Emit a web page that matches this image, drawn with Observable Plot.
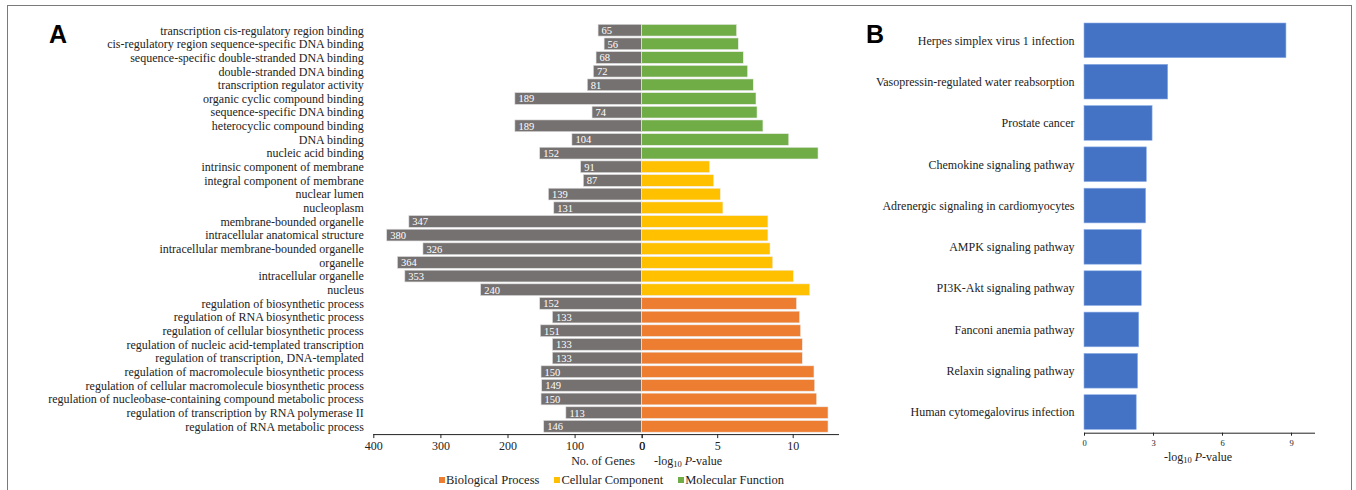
<!DOCTYPE html>
<html>
<head>
<meta charset="utf-8">
<script src="https://cdn.jsdelivr.net/npm/d3@7"></script>
<script src="https://cdn.jsdelivr.net/npm/@observablehq/plot@0.6"></script>
<style>
  html, body { margin: 0; padding: 0; background: #fff; }
  #root { position: relative; width: 1356px; height: 490px; overflow: hidden; font-family: "Liberation Serif", "Times New Roman", serif; color: #222; }
  .frame { position: absolute; left: 7px; top: 5px; width: 1345px; height: 520px; border: 1.5px solid #7a7a7a; border-bottom: none; box-sizing: border-box; }
  .panel { position: absolute; font-family: "Liberation Sans", Arial, sans-serif; font-weight: bold; font-size: 25px; color: #000; }
  .atitle { position: absolute; font-size: 12px; white-space: nowrap; transform: translateX(-50%); }
  .atitle sub { font-size: 8.5px; vertical-align: -2px; }
  .legend { position: absolute; top: 473px; left: 439px; font-size: 12.5px; white-space: nowrap; }
  .legend span.sw { display: inline-block; width: 6px; height: 6px; margin-right: 1px; vertical-align: 1px; }
  .legend span.item { margin-right: 15px; }
</style>
</head>
<body>
<div id="root">
  <div class="frame"></div>
</div>
<script>
// ---- Data ----
const goTerms = [
  "transcription cis-regulatory region binding",
  "cis-regulatory region sequence-specific DNA binding",
  "sequence-specific double-stranded DNA binding",
  "double-stranded DNA binding",
  "transcription regulator activity",
  "organic cyclic compound binding",
  "sequence-specific DNA binding",
  "heterocyclic compound binding",
  "DNA binding",
  "nucleic acid binding",
  "intrinsic component of membrane",
  "integral component of membrane",
  "nuclear lumen",
  "nucleoplasm",
  "membrane-bounded organelle",
  "intracellular anatomical structure",
  "intracellular membrane-bounded organelle",
  "organelle",
  "intracellular organelle",
  "nucleus",
  "regulation of biosynthetic process",
  "regulation of RNA biosynthetic process",
  "regulation of cellular biosynthetic process",
  "regulation of nucleic acid-templated transcription",
  "regulation of transcription, DNA-templated",
  "regulation of macromolecule biosynthetic process",
  "regulation of cellular macromolecule biosynthetic process",
  "regulation of nucleobase-containing compound metabolic process",
  "regulation of transcription by RNA polymerase II",
  "regulation of RNA metabolic process"
];
const geneCounts = [65, 56, 68, 72, 81, 189, 74, 189, 104, 152,
                    91, 87, 139, 131, 347, 380, 326, 364, 353, 240,
                    152, 133, 151, 133, 133, 150, 149, 150, 113, 146];
const goLogP = [6.29, 6.40, 6.73, 7.02, 7.39, 7.57, 7.64, 8.03, 9.74, 11.68,
                4.50, 4.77, 5.21, 5.38, 8.36, 8.36, 8.50, 8.68, 10.04, 11.13,
                10.26, 10.46, 10.53, 10.64, 10.64, 11.41, 11.46, 11.59, 12.34, 12.34];
const goOntology = [
  "Molecular Function","Molecular Function","Molecular Function","Molecular Function","Molecular Function",
  "Molecular Function","Molecular Function","Molecular Function","Molecular Function","Molecular Function",
  "Cellular Component","Cellular Component","Cellular Component","Cellular Component","Cellular Component",
  "Cellular Component","Cellular Component","Cellular Component","Cellular Component","Cellular Component",
  "Biological Process","Biological Process","Biological Process","Biological Process","Biological Process",
  "Biological Process","Biological Process","Biological Process","Biological Process","Biological Process"
];
const ontologyNames = ["Biological Process", "Cellular Component", "Molecular Function"];
const ontologyColors = ["#ED7D31", "#FFC000", "#70AD47"];
const geneTicks = [0, 100, 200, 300, 400];
const goLogTicks = [0, 5, 10];

const keggPathways = [
  "Herpes simplex virus 1 infection",
  "Vasopressin-regulated water reabsorption",
  "Prostate cancer",
  "Chemokine signaling pathway",
  "Adrenergic signaling in cardiomyocytes",
  "AMPK signaling pathway",
  "PI3K-Akt signaling pathway",
  "Fanconi anemia pathway",
  "Relaxin signaling pathway",
  "Human cytomegalovirus infection"
];
const keggLogP = [8.78, 3.64, 2.96, 2.71, 2.68, 2.49, 2.49, 2.38, 2.33, 2.27];
const keggTicks = [0, 3, 6, 9];

// ---- Build tables ----
const goRows = goTerms.map((t, i) => ({term: t, genes: geneCounts[i], logp: goLogP[i], ont: goOntology[i]}));
const keggRows = keggPathways.map((p, i) => ({pathway: p, logp: keggLogP[i]}));

const root = document.getElementById("root");
const W = 1356, H = 490;
const zeroX = 641.7;
const baseStyle = {fontFamily: "'Liberation Serif', 'Times New Roman', serif", fontSize: "12px", background: "transparent", color: "#222", overflow: "visible"};

function place(el) {
  el.style.position = "absolute"; el.style.left = "0px"; el.style.top = "0px";
  root.appendChild(el);
}

// Panel A, left half: number of genes
const goTop = 22.4, goBottom = 434.1;
place(Plot.plot({
  width: W, height: H,
  marginLeft: 373.3, marginRight: W - zeroX, marginTop: goTop, marginBottom: H - goBottom,
  style: baseStyle,
  x: {domain: [0, 400], reverse: true, ticks: geneTicks, label: null, tickSize: 4, tickPadding: 3},
  y: {domain: goTerms, padding: 0.14, round: false, label: null, tickSize: 0, tickPadding: 10},
  marks: [
    Plot.barX(goRows, {x: "genes", y: "term", fill: "#767171", stroke: "#dcdcdc", strokeWidth: 0.6}),
    Plot.text(goRows, {x: "genes", y: "term", text: d => String(d.genes), textAnchor: "start", dx: 3, fill: "white", fontSize: 10.5}),
    Plot.frame({anchor: "bottom", stroke: "#222"})
  ]
}));

// Panel A, right half: -log10 P
place(Plot.plot({
  width: W, height: H,
  marginLeft: zeroX, marginRight: W - 838, marginTop: goTop, marginBottom: H - goBottom,
  style: baseStyle,
  x: {domain: [0, 13], ticks: goLogTicks, label: null, tickSize: 4, tickPadding: 3},
  y: {domain: goTerms, padding: 0.14, round: false, axis: null},
  color: {domain: ontologyNames, range: ontologyColors},
  marks: [
    Plot.barX(goRows, {x: "logp", y: "term", fill: "ont", stroke: "#f0f0f0", strokeWidth: 0.6}),
    Plot.frame({anchor: "bottom", stroke: "#222"})
  ]
}));

// Panel B: KEGG
place(Plot.plot({
  width: W, height: H,
  marginLeft: 1084, marginRight: W - 1314, marginTop: 19.7, marginBottom: H - 432.7,
  style: baseStyle,
  x: {domain: [0, 10], label: null},
  y: {domain: keggPathways, paddingInner: 0.16, paddingOuter: 0.08, round: false, label: null},
  marks: [
    Plot.barX(keggRows, {x: "logp", y: "pathway", fill: "#4472C4", stroke: "#8fb0e8", strokeWidth: 0.6}),
    Plot.axisY({tickSize: 0, tickPadding: 10, label: null, fontSize: 12}),
    Plot.axisX({ticks: keggTicks, tickSize: 3, tickPadding: 4, label: null, fontSize: 8.5}),
    Plot.frame({anchor: "bottom", stroke: "#222"})
  ]
}));

// HTML annotations
function addDiv(cls, html, left, top) {
  const d = document.createElement("div");
  d.className = cls; d.innerHTML = html;
  d.style.left = left + "px"; d.style.top = top + "px";
  root.appendChild(d);
  return d;
}
addDiv("panel", "A", 49, 20);
addDiv("panel", "B", 866, 20);
addDiv("atitle", "No. of Genes", 603, 454);
addDiv("atitle", "-log<sub>10</sub> <i>P</i>-value", 688, 454);
addDiv("atitle", "-log<sub>10</sub> <i>P</i>-value", 1198, 450);

const leg = document.createElement("div");
leg.className = "legend";
ontologyNames.forEach((n, i) => {
  const it = document.createElement("span");
  it.className = "item";
  it.innerHTML = `<span class="sw" style="background:${ontologyColors[i]}"></span>${n}`;
  leg.appendChild(it);
});
root.appendChild(leg);
</script>
</body>
</html>
